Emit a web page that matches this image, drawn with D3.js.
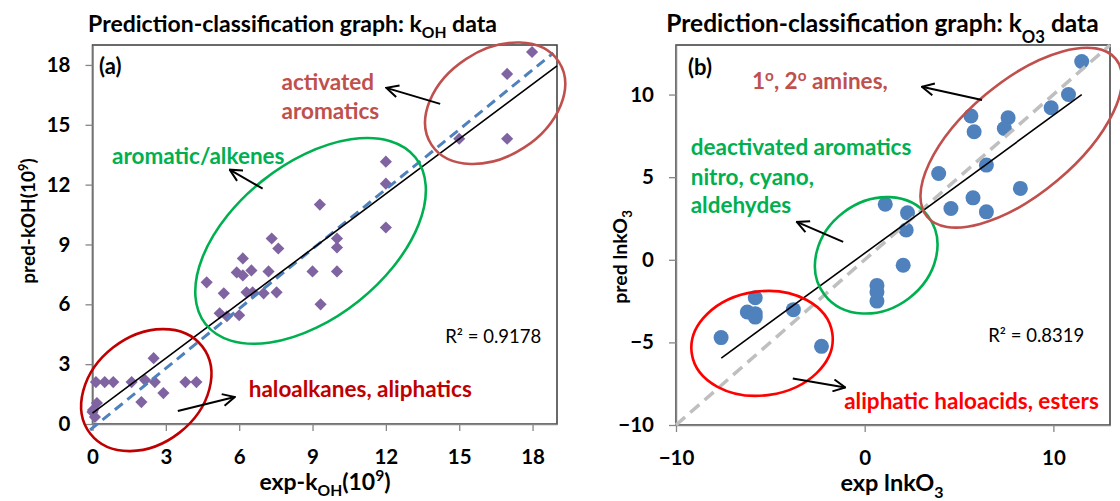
<!DOCTYPE html>
<html>
<head>
<meta charset="utf-8">
<script src="https://cdn.jsdelivr.net/npm/d3@7"></script>
<style>
  body { margin: 0; background: #fff; }
  svg { display: block; }
  text { font-family: Lato, "Open Sans", sans-serif; }
</style>
</head>
<body>
<script>
// ---- Panel (a): OH rate constants, experimental vs predicted (x 10^9) ----
const kohExp  = [17.98, 16.96, 15.0, 16.96, 12.0, 12.0, 9.3, 12.0, 10.0, 10.0, 10.0, 9.0, 9.33,
                 7.33, 7.6, 6.15, 5.9, 6.15, 6.5, 7.2, 4.67, 5.37, 6.3, 6.55, 7.0, 7.53, 5.2, 5.5, 6.0,
                 2.5, 0.14, 0.5, 0.85, 1.6, 2.15, 2.55, 2.9, 2.0, 3.8, 4.25, 0.02, 0.18, 0.1, 0.0];
const kohPred = [18.65, 17.55, 14.3, 14.3, 13.15, 12.05, 11.0, 9.85, 9.3, 8.85, 7.65, 7.65, 6.0,
                 9.3, 8.8, 8.3, 7.6, 7.45, 7.7, 7.65, 7.1, 6.55, 6.6, 6.6, 6.55, 6.6, 5.55, 5.4, 5.45,
                 3.3, 2.1, 2.1, 2.1, 2.1, 2.2, 2.1, 1.55, 1.1, 2.1, 2.1, 0.7, 1.05, 0.35, 0.6];
const kohTicks  = [0, 3, 6, 9, 12, 15, 18];
const kohFit    = [[0, 0.55], [19, 17.95]];     // linear trend line
const kohParity = [[-0.1, -0.3], [18.85, 18.6]]; // dashed reference line
const kohR2     = "R\u00B2 = 0.9178";

// ---- Panel (b): ozone rate constants, ln scale ----
const ko3Exp  = [11.5, 10.8, 9.88, 5.63, 7.6, 5.8, 7.4, 6.45, 3.92, 8.25, 5.74, 4.57, 6.45,
                 1.09, 2.27, 2.2, 2.04, 0.65, 0.65, 0.65,
                 -5.8, -6.22, -5.8, -5.8, -3.78, -7.61, -2.29];
const ko3Pred = [12.0, 10.0, 9.2, 8.7, 8.6, 7.75, 7.95, 5.73, 5.22, 4.32, 3.75, 3.1, 2.9,
                 3.36, 2.84, 1.8, -0.33, -1.55, -1.95, -2.5,
                 -2.3, -3.16, -3.26, -3.47, -3.02, -4.71, -5.24];
const ko3XTicks = [-10, 0, 10];
const ko3YTicks = [-10, -5, 0, 5, 10];
const ko3Fit    = [[-7.6, -5.95], [11.5, 10.0]];
const ko3Parity = [[-10, -10], [13, 13]];
const ko3R2     = "R\u00B2 = 0.8319";

const W = 1120, H = 501;
const svg = d3.select("body").append("svg").attr("width", W).attr("height", H);

svg.append("defs").append("marker")
  .attr("id", "openArrow")
  .attr("viewBox", "0 0 14 14")
  .attr("refX", 13).attr("refY", 7)
  .attr("markerWidth", 14).attr("markerHeight", 14)
  .attr("markerUnits", "userSpaceOnUse")
  .attr("orient", "auto")
  .append("path")
  .attr("d", "M1,1 L13,7 L1,13")
  .attr("fill", "none").attr("stroke", "#000").attr("stroke-width", 2);

// Text with optional sub/superscript runs: parts = [[str, "sub"|"sup"|null], ...]
function richText(sel, parts, baseSize) {
  let shift = 0;
  parts.forEach(([s, kind]) => {
    const t = sel.append("tspan").text(s);
    let target = 0;
    if (kind === "sub") target = baseSize * 0.28;
    if (kind === "sub2") target = baseSize * 0.45;
    if (kind === "sup") target = -baseSize * 0.38;
    if (kind) t.attr("font-size", baseSize * 0.68);
    t.attr("dy", target - shift);
    shift = target;
  });
  return sel;
}

function drawPanel(p) {
  const g = svg.append("g");
  const x = d3.scaleLinear().domain(p.xDomain).range([p.left, p.right]);
  const y = d3.scaleLinear().domain(p.yDomain).range([p.bottom, p.top]);

  // plot area border
  g.append("rect")
    .attr("x", p.left).attr("y", p.top)
    .attr("width", p.right - p.left).attr("height", p.bottom - p.top)
    .attr("fill", "none").attr("stroke", "#3a3a3a").attr("stroke-width", 1.5);

  // axes
  const xa = g.append("g").attr("transform", `translate(0,${p.bottom})`)
    .call(d3.axisBottom(x).tickValues(p.xTicks).tickSize(7).tickPadding(18).tickSizeOuter(0));
  const ya = g.append("g").attr("transform", `translate(${p.left},0)`)
    .call(d3.axisLeft(y).tickValues(p.yTicks).tickSize(7).tickPadding(15).tickSizeOuter(0));
  [xa, ya].forEach(a => {
    a.select(".domain").attr("stroke", "#868686").attr("stroke-width", 1.5);
    a.selectAll(".tick line").attr("stroke", "#868686").attr("stroke-width", 1.3);
    a.selectAll(".tick text")
      .attr("font-family", "Lato, 'Open Sans', sans-serif")
      .attr("font-size", 20.5).attr("font-weight", "bold").attr("fill", "#000");
  });

  // markers
  p.drawPoints(g, x, y);

  // reference and fit lines
  const line = d3.line().x(d => x(d[0])).y(d => y(d[1]));
  g.append("path").attr("d", line(p.parity))
    .attr("fill", "none").attr("stroke", p.parityColor)
    .attr("stroke-width", p.parityWidth).attr("stroke-dasharray", p.parityDash);
  g.append("path").attr("d", line(p.fit))
    .attr("fill", "none").attr("stroke", "#000").attr("stroke-width", 1.6);

  // group ellipses
  p.ellipses.forEach(e => {
    g.append("ellipse")
      .attr("cx", 0).attr("cy", 0).attr("rx", e.rx).attr("ry", e.ry)
      .attr("transform", `translate(${x(e.cx)},${y(e.cy)}) rotate(${e.rot})`)
      .attr("fill", "none").attr("stroke", e.color).attr("stroke-width", 2.6);
  });

  // arrows
  p.arrows.forEach(a => {
    g.append("line")
      .attr("x1", x(a[0][0])).attr("y1", y(a[0][1]))
      .attr("x2", x(a[1][0])).attr("y2", y(a[1][1]))
      .attr("stroke", "#000").attr("stroke-width", 2)
      .attr("marker-end", "url(#openArrow)");
  });

  // group labels
  p.labels.forEach(l => {
    const t = g.append("text")
      .attr("x", x(l.at[0])).attr("y", y(l.at[1]))
      .attr("fill", l.color).attr("font-size", l.size)
      .attr("font-weight", l.bold === false ? "normal" : "bold");
    richText(t, l.parts, l.size);
  });

  // chart title
  const title = g.append("text")
    .attr("x", p.titleX).attr("y", 32).attr("text-anchor", "middle")
    .attr("font-size", p.titleSize).attr("font-weight", "bold").attr("fill", "#000");
  richText(title, p.title, p.titleSize);

  // axis titles
  const xt = g.append("text")
    .attr("x", p.xTitleX).attr("y", p.xTitleY).attr("text-anchor", "middle")
    .attr("font-size", p.xTitleSize).attr("font-weight", "bold");
  richText(xt, p.xTitle, p.xTitleSize);
  const yt = g.append("text")
    .attr("transform", `translate(${p.yTitleX},${p.yTitleY}) rotate(-90)`)
    .attr("text-anchor", "middle")
    .attr("font-size", p.yTitleSize).attr("font-weight", "bold");
  richText(yt, p.yTitle, p.yTitleSize);
}

// Panel (a)
drawPanel({
  left: 92.5, right: 557, top: 45, bottom: 424,
  xDomain: [0, 19], yDomain: [0, 19],
  xTicks: kohTicks, yTicks: kohTicks,
  drawPoints: (g, x, y) => {
    const diamond = d3.symbol().type(d3.symbolSquare).size(74);
    g.append("g").selectAll("path").data(kohExp)
      .join("path")
      .attr("d", diamond)
      .attr("transform", (d, i) => `translate(${x(d)},${y(kohPred[i])}) rotate(45)`)
      .attr("fill", "#8064A2");
  },
  parity: kohParity, parityColor: "#4F81BD", parityWidth: 3, parityDash: "10,6",
  fit: kohFit,
  ellipses: [
    { cx: 2.2,  cy: 1.7,  rx: 71,  ry: 54, rot: -38, color: "#C00000" },
    { cx: 8.92, cy: 9.18, rx: 134, ry: 77, rot: -38.5, color: "#00B050" },
    { cx: 16.47, cy: 16.08, rx: 76, ry: 53, rot: -33, color: "#C0504D" }
  ],
  arrows: [
    [[14.22, 16.05], [12.02, 16.85]],
    [[6.96, 11.8], [5.61, 12.75]],
    [[3.49, 0.65], [5.82, 1.35]]
  ],
  labels: [
    { at: [0.27, 17.55], parts: [["(a)"]], color: "#000", size: 22 },
    { at: [7.73, 16.75], parts: [["activated"]], color: "#C0504D", size: 22.5 },
    { at: [7.73, 15.3],  parts: [["aromatics"]], color: "#C0504D", size: 22.5 },
    { at: [0.8, 13.05],  parts: [["aromatic/alkenes"]], color: "#00B050", size: 22.5 },
    { at: [6.39, 1.35],  parts: [["haloalkanes, aliphatics"]], color: "#C00000", size: 22.5 },
    { at: [14.43, 4.05], parts: [[kohR2]], color: "#000", size: 18.5, bold: false }
  ],
  titleX: 292.5, titleSize: 23,
  title: [["Prediction-classification graph: k"], ["OH", "sub"], [" data"]],
  xTitleX: 325, xTitleY: 490, xTitleSize: 23,
  xTitle: [["exp-k"], ["OH", "sub"], ["(10"], ["9", "sup"], [")"]],
  yTitleX: 35, yTitleY: 221, yTitleSize: 19,
  yTitle: [["pred-kOH(10"], ["9", "sup"], [")"]]
});

// Panel (b)
drawPanel({
  left: 676, right: 1110, top: 45, bottom: 425,
  xDomain: [-10, 13], yDomain: [-10, 13],
  xTicks: ko3XTicks, yTicks: ko3YTicks,
  drawPoints: (g, x, y) => {
    g.append("g").selectAll("circle").data(ko3Exp)
      .join("circle")
      .attr("cx", d => x(d)).attr("cy", (d, i) => y(ko3Pred[i]))
      .attr("r", 7.5).attr("fill", "#4F81BD");
  },
  parity: ko3Parity, parityColor: "#BFBFBF", parityWidth: 3.5, parityDash: "12,7",
  fit: ko3Fit,
  ellipses: [
    { cx: -5.44, cy: -5.06, rx: 71, ry: 52, rot: -8, color: "#FF0000" },
    { cx: 0.61, cy: 0.27, rx: 65, ry: 54, rot: -37, color: "#00B050" },
    { cx: 8.3, cy: 7.39, rx: 123, ry: 56, rot: -40, color: "#C0504D" }
  ],
  arrows: [
    [[6.22, 9.67], [3.03, 10.47]],
    [[-1.14, 1.08], [-3.6, 2.29]],
    [[-3.81, -7.18], [-1.03, -7.73]]
  ],
  labels: [
    { at: [-9.36, 11.18], parts: [["(b)"]], color: "#000", size: 22 },
    { at: [-5.97, 10.33], parts: [["1"], ["o", "sup"], [", 2"], ["o", "sup"], [" amines,"]], color: "#C0504D", size: 22.5 },
    { at: [-9.22, 6.33], parts: [["deactivated aromatics"]], color: "#00B050", size: 22.5 },
    { at: [-9.22, 4.52], parts: [["nitro, cyano,"]], color: "#00B050", size: 22.5 },
    { at: [-9.22, 2.82], parts: [["aldehydes"]], color: "#00B050", size: 22.5 },
    { at: [-1.09, -9.06], parts: [["aliphatic haloacids, esters"]], color: "#FF0000", size: 22.5 },
    { at: [6.55, -4.98], parts: [[ko3R2]], color: "#000", size: 18.5, bold: false }
  ],
  titleX: 882.5, titleSize: 24.5,
  title: [["Prediction-classification graph: k"], ["O3", "sub2"], [" data"]],
  xTitleX: 892, xTitleY: 491, xTitleSize: 23.5,
  xTitle: [["exp lnkO"], ["3", "sub"]],
  yTitleX: 627, yTitleY: 257, yTitleSize: 19.5,
  yTitle: [["pred lnkO"], ["3", "sub"]]
});
</script>
</body>
</html>
